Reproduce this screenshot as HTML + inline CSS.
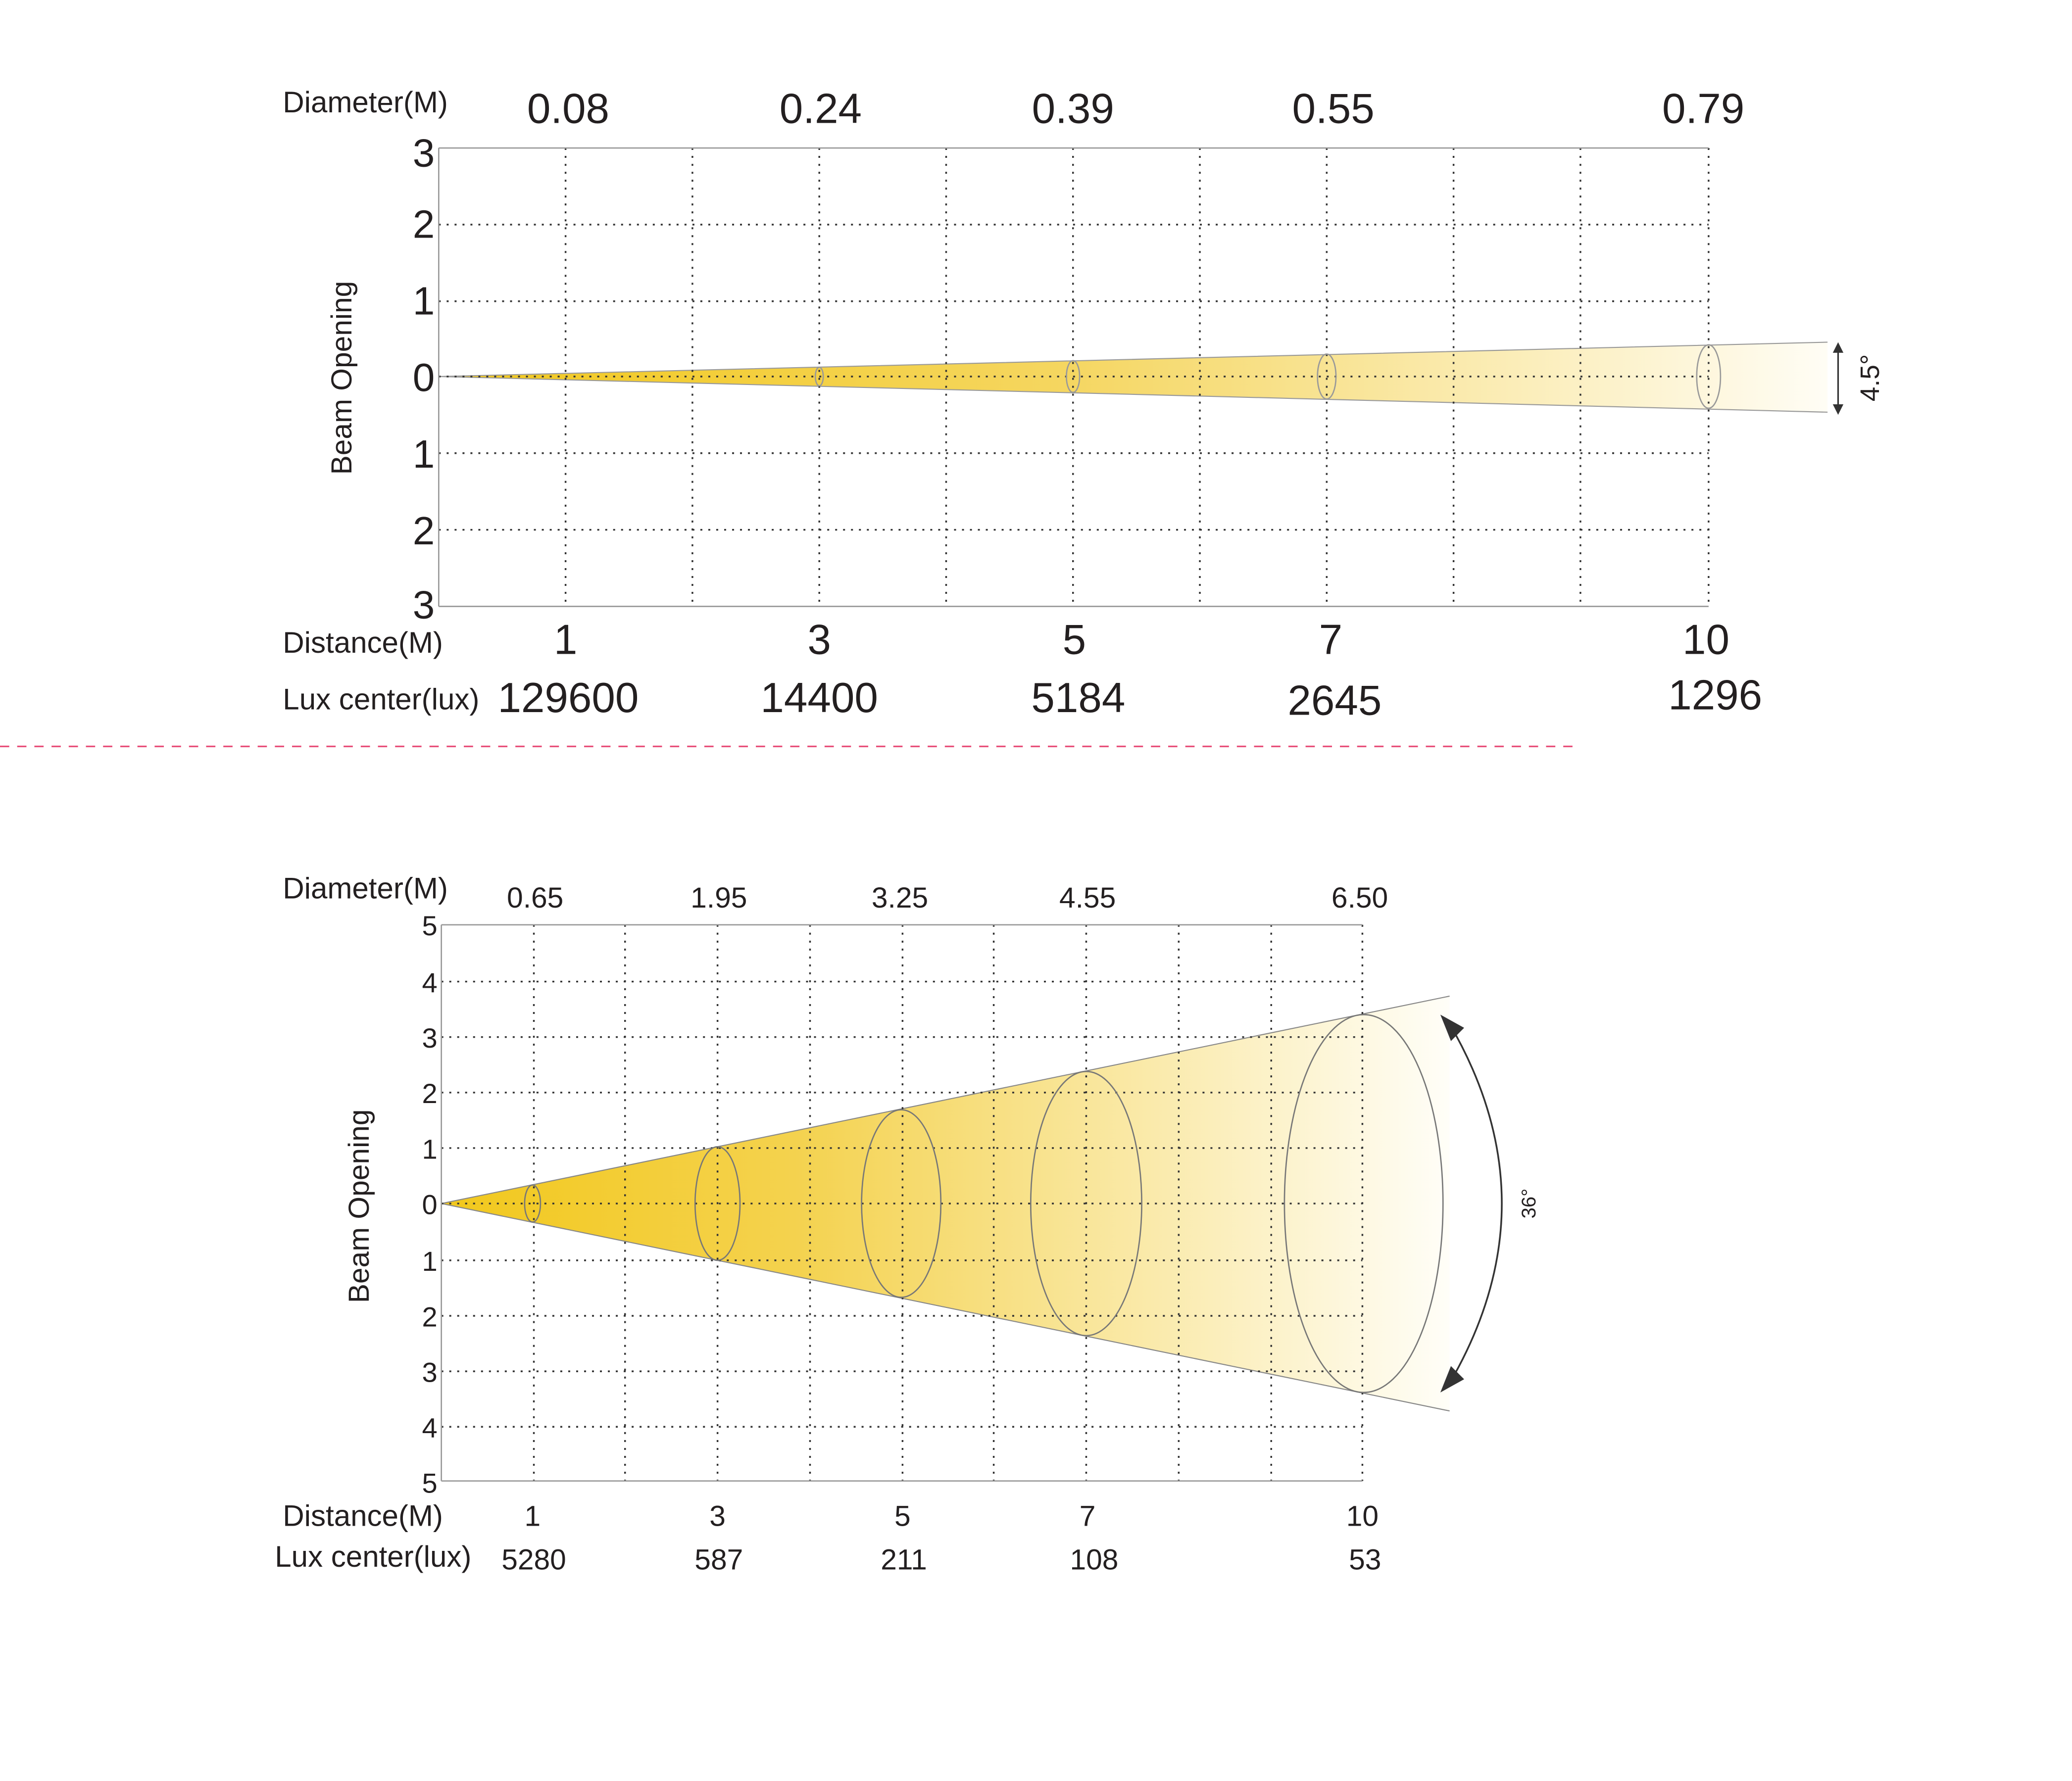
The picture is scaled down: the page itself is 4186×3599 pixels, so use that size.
<!DOCTYPE html>
<html><head><meta charset="utf-8"><style>html,body{margin:0;padding:0;background:#fff}svg{display:block}</style></head>
<body>
<svg width="4186" height="3599" viewBox="0 0 1568 1348.1" xmlns="http://www.w3.org/2000/svg" font-family="Liberation Sans, Arial, sans-serif" fill="#231f20">
<defs>
<linearGradient id="g1" x1="332" y1="0" x2="1383" y2="0" gradientUnits="userSpaceOnUse">
<stop offset="0" stop-color="#f2c81c"/><stop offset="0.45" stop-color="#f5d660"/><stop offset="1" stop-color="#fffdf5"/></linearGradient>
<linearGradient id="g2" x1="334" y1="0" x2="1097" y2="0" gradientUnits="userSpaceOnUse">
<stop offset="0" stop-color="#f2c81c"/><stop offset="0.35" stop-color="#f4d24e"/><stop offset="1" stop-color="#fffef8"/></linearGradient>
</defs>
<!-- TOP -->
<polygon points="332,285 1383,259 1383,312" fill="url(#g1)"/>
<polyline points="1383,259 332,285 1383,312" fill="none" stroke="#999" stroke-width="0.8"/>
<g stroke="#333" stroke-width="1.3" stroke-dasharray="1.5,4.5" fill="none">
<line x1="428" y1="112" x2="428" y2="459"/><line x1="524" y1="112" x2="524" y2="459"/><line x1="620" y1="112" x2="620" y2="459"/><line x1="716" y1="112" x2="716" y2="459"/><line x1="812" y1="112" x2="812" y2="459"/><line x1="908" y1="112" x2="908" y2="459"/><line x1="1004" y1="112" x2="1004" y2="459"/><line x1="1100" y1="112" x2="1100" y2="459"/><line x1="1196" y1="112" x2="1196" y2="459"/><line x1="1293" y1="112" x2="1293" y2="459"/>
<line x1="332" y1="170" x2="1293" y2="170"/><line x1="332" y1="228" x2="1293" y2="228"/><line x1="332" y1="285" x2="1293" y2="285"/><line x1="332" y1="343" x2="1293" y2="343"/><line x1="332" y1="401" x2="1293" y2="401"/>
</g>
<g stroke="#999" stroke-width="1" fill="none">
<line x1="332" y1="112" x2="1293" y2="112"/><line x1="332" y1="459" x2="1293" y2="459"/><line x1="332" y1="112" x2="332" y2="459"/>
<ellipse cx="620" cy="285" rx="3" ry="7"/><ellipse cx="812" cy="285" rx="5" ry="12"/><ellipse cx="1004" cy="285" rx="7" ry="17"/><ellipse cx="1293" cy="285" rx="9" ry="24"/>
</g>
<line x1="1391" y1="264" x2="1391" y2="310" stroke="#333" stroke-width="1.2"/>
<polygon points="1391,259 1387,267 1395,267" fill="#333"/><polygon points="1391,314 1387,306 1395,306" fill="#333"/>
<text transform="translate(1422,286) rotate(-90)" font-size="20" text-anchor="middle">4.5°</text>
<text x="214" y="85" font-size="22.5">Diameter(M)</text>
<g font-size="32" text-anchor="middle"><text x="430" y="93">0.08</text><text x="621" y="93">0.24</text><text x="812" y="93">0.39</text><text x="1009" y="93">0.55</text><text x="1289" y="93">0.79</text></g>
<g font-size="30" text-anchor="end"><text x="329" y="126">3</text><text x="329" y="180">2</text><text x="329" y="238">1</text><text x="329" y="296">0</text><text x="329" y="354">1</text><text x="329" y="412">2</text><text x="329" y="468">3</text></g>
<text transform="translate(266,286) rotate(-90)" font-size="22" text-anchor="middle">Beam Opening</text>
<text x="214" y="494" font-size="22.5">Distance(M)</text>
<g font-size="32" text-anchor="middle"><text x="428" y="495">1</text><text x="620" y="495">3</text><text x="813" y="495">5</text><text x="1007" y="495">7</text><text x="1291" y="495">10</text></g>
<text x="214" y="537" font-size="22.5">Lux center(lux)</text>
<g font-size="32" text-anchor="middle"><text x="430" y="539">129600</text><text x="620" y="539">14400</text><text x="816" y="539">5184</text><text x="1010" y="541">2645</text><text x="1298" y="537">1296</text></g>
<line x1="0" y1="565" x2="1190" y2="565" stroke="#e8507a" stroke-width="1.2" stroke-dasharray="7,6"/>
<!-- BOTTOM -->
<polygon points="334,911 1097,754 1097,1068" fill="url(#g2)"/>
<polyline points="1097,754 334,911 1097,1068" fill="none" stroke="#888" stroke-width="0.8"/>
<g stroke="#333" stroke-width="1.3" stroke-dasharray="1.5,4.5" fill="none">
<line x1="404" y1="700" x2="404" y2="1121"/><line x1="473" y1="700" x2="473" y2="1121"/><line x1="543" y1="700" x2="543" y2="1121"/><line x1="613" y1="700" x2="613" y2="1121"/><line x1="683" y1="700" x2="683" y2="1121"/><line x1="752" y1="700" x2="752" y2="1121"/><line x1="822" y1="700" x2="822" y2="1121"/><line x1="892" y1="700" x2="892" y2="1121"/><line x1="962" y1="700" x2="962" y2="1121"/><line x1="1031" y1="700" x2="1031" y2="1121"/>
<line x1="334" y1="743" x2="1031" y2="743"/><line x1="334" y1="785" x2="1031" y2="785"/><line x1="334" y1="827" x2="1031" y2="827"/><line x1="334" y1="869" x2="1031" y2="869"/><line x1="334" y1="911" x2="1031" y2="911"/><line x1="334" y1="954" x2="1031" y2="954"/><line x1="334" y1="996" x2="1031" y2="996"/><line x1="334" y1="1038" x2="1031" y2="1038"/><line x1="334" y1="1080" x2="1031" y2="1080"/>
</g>
<g stroke="#999" stroke-width="1" fill="none">
<line x1="334" y1="700" x2="1031" y2="700"/><line x1="334" y1="1121" x2="1031" y2="1121"/><line x1="334" y1="700" x2="334" y2="1121"/>
</g>
<g stroke="#777" stroke-width="1" fill="none">
<ellipse cx="403" cy="911" rx="6" ry="14"/><ellipse cx="543" cy="911" rx="17" ry="43"/><ellipse cx="682" cy="911" rx="30" ry="71"/><ellipse cx="822" cy="911" rx="42" ry="100"/><ellipse cx="1032" cy="911" rx="60" ry="143"/>
</g>
<path d="M1097,775 Q1176,911 1097,1047" stroke="#333" stroke-width="1.3" fill="none"/>
<polygon points="1090,768 1108,778 1098,788" fill="#333"/><polygon points="1090,1054 1098,1034 1108,1044" fill="#333"/>
<text transform="translate(1162,911) rotate(-90)" font-size="15" text-anchor="middle">36°</text>
<text x="214" y="680" font-size="22.5">Diameter(M)</text>
<g font-size="22" text-anchor="middle"><text x="405" y="687">0.65</text><text x="544" y="687">1.95</text><text x="681" y="687">3.25</text><text x="823" y="687">4.55</text><text x="1029" y="687">6.50</text></g>
<g font-size="21" text-anchor="end"><text x="331" y="708">5</text><text x="331" y="751">4</text><text x="331" y="793">3</text><text x="331" y="835">2</text><text x="331" y="877">1</text><text x="331" y="919">0</text><text x="331" y="962">1</text><text x="331" y="1004">2</text><text x="331" y="1046">3</text><text x="331" y="1088">4</text><text x="331" y="1130">5</text></g>
<text transform="translate(279,913) rotate(-90)" font-size="22" text-anchor="middle">Beam Opening</text>
<text x="214" y="1155" font-size="22.5">Distance(M)</text>
<g font-size="22" text-anchor="middle"><text x="403" y="1155">1</text><text x="543" y="1155">3</text><text x="683" y="1155">5</text><text x="823" y="1155">7</text><text x="1031" y="1155">10</text></g>
<text x="208" y="1186" font-size="22.5">Lux center(lux)</text>
<g font-size="22" text-anchor="middle"><text x="404" y="1188">5280</text><text x="544" y="1188">587</text><text x="684" y="1188">211</text><text x="828" y="1188">108</text><text x="1033" y="1188">53</text></g>
</svg>
</body></html>
